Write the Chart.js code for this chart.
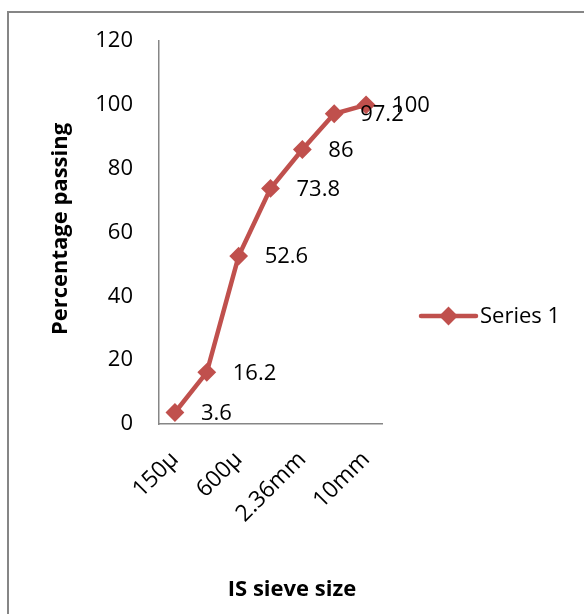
<!DOCTYPE html>
<html>
<head>
<meta charset="utf-8">
<title>Gradation curve</title>
<script src="https://cdn.jsdelivr.net/npm/chart.js@4/dist/chart.umd.min.js"></script>
<style>
  html, body { margin: 0; padding: 0; background: #ffffff; }
  #wrap { width: 584px; height: 614px; position: relative; }
</style>
</head>
<body>
<div id="wrap"><canvas id="chart" width="584" height="614"></canvas></div>
<script>
// IS sieve sizes (every other one is labelled on the axis)
const sieveSizes = ['150μ', '300μ', '600μ', '1.18mm', '2.36mm', '4.75mm', '10mm'];
// Cumulative percentage passing each sieve
const percentPassing = [3.6, 16.2, 52.6, 73.8, 86, 97.2, 100];
// Value axis ticks
const yTicks = [0, 20, 40, 60, 80, 100, 120];

const seriesName = 'Series 1';
const xTitle = 'IS sieve size';
const yTitle = 'Percentage passing';

const RED = '#C0504D';
const AXIS = '#868686';
const FONT = '"Open Sans", Lato, sans-serif';

// Value labels written to the right of each marker
const valueLabels = {
  id: 'valueLabels',
  afterDatasetsDraw(chart) {
    const ctx = chart.ctx;
    const meta = chart.getDatasetMeta(0);
    const data = chart.data.datasets[0].data;
    ctx.save();
    ctx.font = '22px ' + FONT;
    ctx.fillStyle = '#000000';
    ctx.textAlign = 'left';
    ctx.textBaseline = 'middle';
    meta.data.forEach((pt, i) => {
      ctx.fillText(String(data[i]), pt.x + 26, pt.y + 1);
    });
    ctx.restore();
  }
};

// Outer frame, axis titles and the legend entry
const decorations = {
  id: 'decorations',
  beforeDraw(chart) {
    const ctx = chart.ctx;
    ctx.save();
    ctx.fillStyle = '#ffffff';
    ctx.fillRect(0, 0, chart.width, chart.height);
    ctx.strokeStyle = AXIS;
    ctx.lineWidth = 2;
    ctx.beginPath();
    ctx.moveTo(8, chart.height + 2);
    ctx.lineTo(8, 12);
    ctx.lineTo(chart.width + 2, 12);
    ctx.stroke();
    ctx.restore();
  },
  afterDraw(chart) {
    const ctx = chart.ctx;
    const area = chart.chartArea;
    ctx.save();
    ctx.fillStyle = '#000000';
    ctx.textAlign = 'center';
    ctx.textBaseline = 'alphabetic';
    // x axis title
    ctx.font = 'bold 22px ' + FONT;
    ctx.fillText(xTitle, 292, 596);
    // y axis title
    ctx.font = 'bold 22px ' + FONT;
    ctx.translate(67, 229);
    ctx.rotate(-Math.PI / 2);
    ctx.fillText(yTitle, 0, 0);
    ctx.restore();

    // legend
    const ly = 316;
    const lx0 = area.right + 39;
    const lx1 = area.right + 94;
    ctx.save();
    ctx.strokeStyle = RED;
    ctx.lineWidth = 4.5;
    ctx.lineCap = 'round';
    ctx.beginPath();
    ctx.moveTo(lx0, ly);
    ctx.lineTo(lx1, ly);
    ctx.stroke();
    ctx.fillStyle = RED;
    ctx.lineWidth = 2;
    Chart.helpers.drawPoint(ctx, { pointStyle: 'rectRot', radius: 8, borderWidth: 2, rotation: 0 }, (lx0 + lx1) / 2, ly);
    ctx.fillStyle = '#000000';
    ctx.font = '22px ' + FONT;
    ctx.textAlign = 'left';
    ctx.textBaseline = 'middle';
    ctx.fillText(seriesName, lx1 + 4, ly + 1);
    ctx.restore();
  }
};

new Chart(document.getElementById('chart'), {
  type: 'line',
  data: {
    labels: sieveSizes,
    datasets: [{
      label: seriesName,
      data: percentPassing,
      borderColor: RED,
      backgroundColor: RED,
      borderWidth: 4.5,
      pointStyle: 'rectRot',
      pointRadius: 8,
      pointBorderWidth: 2,
      pointBackgroundColor: RED,
      pointBorderColor: RED,
      tension: 0,
      fill: false
    }]
  },
  options: {
    responsive: false,
    animation: false,
    devicePixelRatio: 1,
    layout: { padding: { top: 41, right: 202, bottom: 0, left: 0 } },
    plugins: {
      legend: { display: false },
      tooltip: { enabled: false }
    },
    scales: {
      x: {
        type: 'category',
        offset: true,
        grid: { display: false, drawTicks: false },
        border: { display: true, color: AXIS, width: 1.5 },
        ticks: {
          autoSkip: false,
          maxRotation: 45,
          minRotation: 45,
          padding: 22,
          color: '#000000',
          font: { family: FONT, size: 23 },
          callback: (v, i) => (i % 2 === 0 ? sieveSizes[i] : '')
        },
        afterFit(scale) { scale.height = 190; }
      },
      y: {
        min: yTicks[0],
        max: yTicks[yTicks.length - 1],
        grid: { display: false, drawTicks: false },
        border: { display: true, color: AXIS, width: 1.5 },
        afterBuildTicks(scale) { scale.ticks = yTicks.map(v => ({ value: v })); },
        ticks: {
          padding: 26,
          color: '#000000',
          font: { family: FONT, size: 22 }
        },
        afterFit(scale) { scale.width = 159; }
      }
    }
  },
  plugins: [decorations, valueLabels]
});
</script>
</body>
</html>
